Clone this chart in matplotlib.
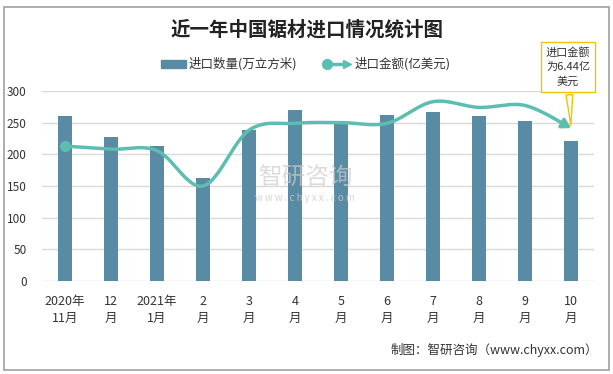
import numpy as np
import matplotlib
matplotlib.use("Agg")
import matplotlib.pyplot as plt
from matplotlib.patches import Rectangle
from matplotlib.lines import Line2D

plt.rcParams['font.family'] = ['Noto Sans CJK SC', 'DejaVu Sans']

categories = ["2020年\n11月", "12\n月", "2021年\n1月", "2\n月", "3\n月", "4\n月",
              "5\n月", "6\n月", "7\n月", "8\n月", "9\n月", "10\n月"]
volume = [261, 227, 213, 163, 238, 270, 249, 262, 267, 261, 252, 221]   # 万立方米
amount = [5.68, 5.55, 5.49, 4.00, 6.35, 6.64, 6.67, 6.64, 7.55, 7.31, 7.39, 6.44]  # 亿美元
yticks = [0, 50, 100, 150, 200, 250, 300]

BAR = "#5a8ba4"
LINE = "#5cbdb1"

W, H = 613, 374
fig = plt.figure(figsize=(6.13, 3.74), dpi=100)
fig.patch.set_facecolor("white")
fig.add_artist(Rectangle((3.5/W, 1-369.5/H), 605/W, 363/H, transform=fig.transFigure,
                         fill=False, ec="#a0a0a0", lw=1.2))

ax = fig.add_axes([42/W, 1-281/H, 552/W, 190/H])
x = np.arange(len(categories))
ax.bar(x, volume, width=0.3, color=BAR, zorder=2)
ax.set_xlim(-0.5, len(categories) - 0.5)
ax.set_ylim(0, 300)
ax.set_yticks(yticks)
ax.set_yticklabels([str(v) for v in yticks], fontsize=8.5, color="#333333")
ax.set_xticks(x)
ax.set_xticklabels(categories, fontsize=9, color="#333333", linespacing=1.45)
ax.tick_params(axis='x', length=0, pad=10)
ax.tick_params(axis='y', length=0, pad=11)
ax.grid(axis='y', color="#d9d9d9", lw=1, zorder=0)
for s in ax.spines.values():
    s.set_visible(False)

# secondary hidden axis for amount
ax2 = ax.twinx()
ax2.set_ylim(0, 8)
ax2.axis('off')

# Catmull-Rom smoothing of the amount series
def smooth(xs, ys, n=30):
    xs = np.asarray(xs, float); ys = np.asarray(ys, float)
    px = np.concatenate([[xs[0]], xs, [xs[-1]]])
    py = np.concatenate([[ys[0]], ys, [ys[-1]]])
    ox, oy = [], []
    for i in range(1, len(px) - 2):
        p0 = np.array([px[i-1], py[i-1]]); p1 = np.array([px[i], py[i]])
        p2 = np.array([px[i+1], py[i+1]]); p3 = np.array([px[i+2], py[i+2]])
        c1 = p1 + (p2 - p0) / 6
        c2 = p2 - (p3 - p1) / 6
        t = np.linspace(0, 1, n)[:, None]
        pts = (1-t)**3*p1 + 3*(1-t)**2*t*c1 + 3*(1-t)*t**2*c2 + t**3*p2
        ox.extend(pts[:, 0]); oy.extend(pts[:, 1])
    return np.array(ox), np.array(oy)

sx, sy = smooth(x, amount)
ax2.plot(sx[:-3], sy[:-3], color=LINE, lw=2.5, solid_capstyle='round', zorder=3)
ax2.plot([x[0]], [amount[0]], 'o', color=LINE, ms=7, zorder=4)
ax2.annotate("", xy=(sx[-1], sy[-1]), xytext=(sx[-6], sy[-6]),
             arrowprops=dict(arrowstyle="-|>,head_length=0.5,head_width=0.3",
                             color=LINE, lw=2.5, shrinkA=0, shrinkB=0), zorder=4)

# callout
ax2.annotate("进口金额\n为6.44亿\n美元", xy=(x[-1], amount[-1]),
             xytext=(568/W, 1-67/H), textcoords=fig.transFigure,
             ha='center', va='center', fontsize=8, color="#333333", linespacing=1.45,
             bbox=dict(boxstyle="square,pad=0.45", fc="white", ec="#f2c200", lw=1),
             arrowprops=dict(arrowstyle="wedge,tail_width=0.6,shrink_factor=0.5",
                             fc="white", ec="#f2c200", lw=1), zorder=6,
             annotation_clip=False)

# title
fig.text(307/W, 1-30/H, "近一年中国锯材进口情况统计图", ha='center', va='center',
         fontsize=14, fontweight='bold', color="#222222")

# legend
ly = 1 - 64/H
fig.add_artist(Rectangle((161/W, ly - 4/H), 25/W, 8/H, transform=fig.transFigure,
                         color=BAR))
fig.text(189/W, ly, "进口数量(万立方米)", ha='left', va='center', fontsize=9,
         color="#333333")
fig.add_artist(Line2D([325/W, 344/W], [ly, ly], transform=fig.transFigure,
                      color=LINE, lw=2.5))
fig.add_artist(Line2D([327/W], [ly], transform=fig.transFigure, marker='o',
                      color=LINE, ms=7))
fig.add_artist(Line2D([347/W], [ly], transform=fig.transFigure, marker='>',
                      color=LINE, ms=6))
fig.text(355/W, ly, "进口金额(亿美元)", ha='left', va='center', fontsize=9,
         color="#333333")

# watermark
fig.text(305/W, 1-178/H, "智研咨询", ha='center', va='center', fontsize=17,
         color="#cccccc", alpha=0.7)
fig.text(305/W, 1-198/H, "w w w . c h y x x . c o m", ha='center', va='center',
         fontsize=7, color="#cccccc", alpha=0.8)

# footer
fig.text(598/W, 1-350/H, "制图：智研咨询（www.chyxx.com）", ha='right', va='center',
         fontsize=9, color="#333333")

fig.savefig("out.png", dpi=100)
